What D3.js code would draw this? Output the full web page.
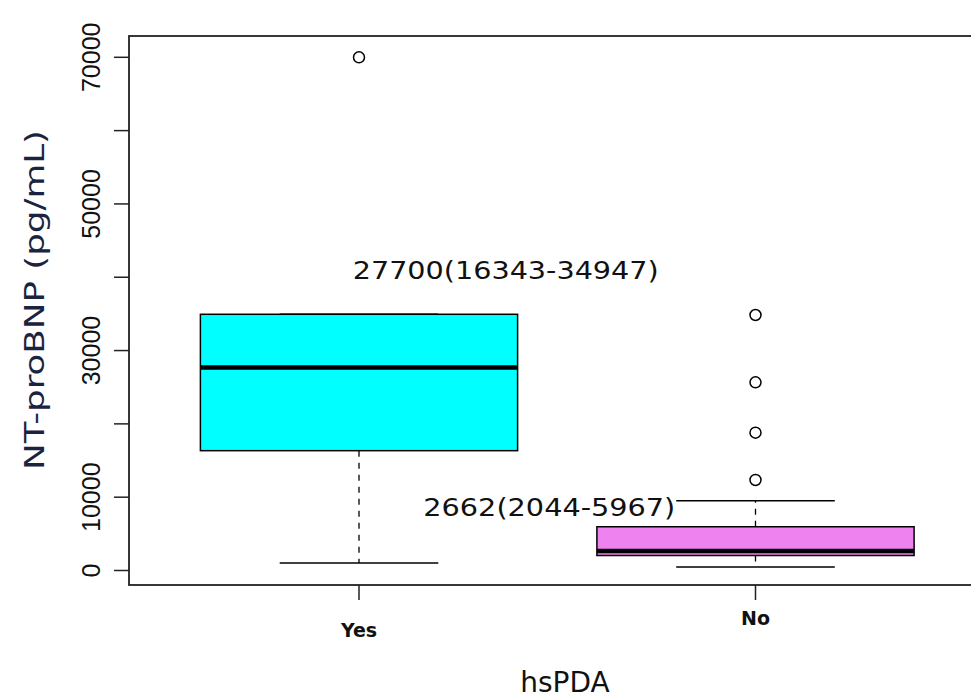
<!DOCTYPE html>
<html><head><meta charset="utf-8">
<script src="https://cdn.jsdelivr.net/npm/d3@7"></script>
<style>body{margin:0;background:#fff}svg{display:block}</style>
</head><body><svg id="c" width="971" height="700"></svg>
<script>
const categories = ["Yes", "No"];
const q1 = [16343, 2044];
const medians = [27700, 2662];
const q3 = [34947, 5967];
const whiskerLow = [1020, 480];
const whiskerHigh = [34947, 9500];
const outliers = [[70000], [34850, 25670, 18800, 12350]];
const boxColors = ["#00FFFF", "#EE82EE"];
const annotations = ["27700(16343-34947)", "2662(2044-5967)"];
const annotX = [1.37, 1.48];
const annotY = [41000, 8660];
const yTicks = [0, 10000, 20000, 30000, 40000, 50000, 60000, 70000];
const yTickLabels = ["0", "10000", "", "30000", "", "50000", "", "70000"];
const xTitle = "hsPDA";
const yTitle = "NT-proBNP (pg/mL)";

const svg = d3.select("#c");
const frame = {left: 129, right: 990, top: 36, bottom: 585};
const y = d3.scaleLinear().domain([0, 70000]).range([570.5, 57.3]);
const x = d3.scaleLinear().domain([1, 2]).range([359, 755.5]);
const boxHalf = 0.4, capHalf = 0.2;
const txt = "#111";

categories.forEach((c, i) => {
  const g = svg.append("g");
  const cx = i + 1;
  g.append("line").attr("x1", x(cx)).attr("x2", x(cx))
    .attr("y1", y(q1[i])).attr("y2", y(whiskerLow[i]))
    .attr("stroke", "#000").attr("stroke-width", 1.3).attr("stroke-dasharray", "6,6");
  g.append("line").attr("x1", x(cx)).attr("x2", x(cx))
    .attr("y1", y(q3[i])).attr("y2", y(whiskerHigh[i]))
    .attr("stroke", "#000").attr("stroke-width", 1.3).attr("stroke-dasharray", "6,6");
  [whiskerLow[i], whiskerHigh[i]].forEach(v => {
    g.append("line").attr("x1", x(cx - capHalf)).attr("x2", x(cx + capHalf))
      .attr("y1", y(v)).attr("y2", y(v)).attr("stroke", "#000").attr("stroke-width", 1.5);
  });
  g.append("rect").attr("x", x(cx - boxHalf)).attr("y", y(q3[i]))
    .attr("width", x(cx + boxHalf) - x(cx - boxHalf)).attr("height", y(q1[i]) - y(q3[i]))
    .attr("fill", boxColors[i]).attr("stroke", "#000").attr("stroke-width", 1.5);
  g.append("line").attr("x1", x(cx - boxHalf)).attr("x2", x(cx + boxHalf))
    .attr("y1", y(medians[i])).attr("y2", y(medians[i]))
    .attr("stroke", "#000").attr("stroke-width", 4.5);
  g.selectAll("circle.o").data(outliers[i]).enter().append("circle")
    .attr("cx", x(cx)).attr("cy", d => y(d)).attr("r", 5.5)
    .attr("fill", "none").attr("stroke", "#000").attr("stroke-width", 1.5);
});

svg.append("rect").attr("x", frame.left).attr("y", frame.top)
  .attr("width", frame.right - frame.left).attr("height", frame.bottom - frame.top)
  .attr("fill", "none").attr("stroke", "#222").attr("stroke-width", 1.8);

yTicks.forEach((t, i) => {
  svg.append("line").attr("x1", 114).attr("x2", frame.left).attr("y1", y(t)).attr("y2", y(t))
    .attr("stroke", "#222").attr("stroke-width", 1.5);
  if (yTickLabels[i]) {
    svg.append("text").attr("transform", `translate(100,${y(t)}) rotate(-90)`)
      .attr("text-anchor", "middle").attr("font-family", "Liberation Sans, Arial, sans-serif")
      .attr("font-size", 25).attr("fill", txt).text(yTickLabels[i]);
  }
});
categories.forEach((c, i) => {
  svg.append("line").attr("x1", x(i + 1)).attr("x2", x(i + 1)).attr("y1", frame.bottom).attr("y2", 600)
    .attr("stroke", "#222").attr("stroke-width", 1.5);
  svg.append("text").attr("x", x(i + 1)).attr("y", i === 0 ? 637 : 625)
    .attr("text-anchor", "middle").attr("font-family", "DejaVu Sans, sans-serif")
    .attr("font-weight", "bold").attr("font-size", 19).attr("fill", txt).text(c);
});

svg.append("text").attr("x", 565).attr("y", 692).attr("text-anchor", "middle")
  .attr("font-family", "DejaVu Sans, sans-serif").attr("font-size", 28).attr("fill", txt).text(xTitle);
svg.append("text").attr("transform", "translate(44,300) rotate(-90)").attr("text-anchor", "middle")
  .attr("font-family", "DejaVu Sans, sans-serif").attr("font-size", 26).attr("fill", "#1a2440")
  .attr("textLength", 340).attr("lengthAdjust", "spacingAndGlyphs").text(yTitle);

const annotW = [306, 252];
annotations.forEach((a, i) => {
  svg.append("text").attr("x", x(annotX[i])).attr("y", y(annotY[i]) + 9)
    .attr("text-anchor", "middle").attr("font-family", "DejaVu Sans, sans-serif")
    .attr("font-size", 24).attr("fill", txt)
    .attr("textLength", annotW[i]).attr("lengthAdjust", "spacingAndGlyphs").text(a);
});
</script></body></html>
